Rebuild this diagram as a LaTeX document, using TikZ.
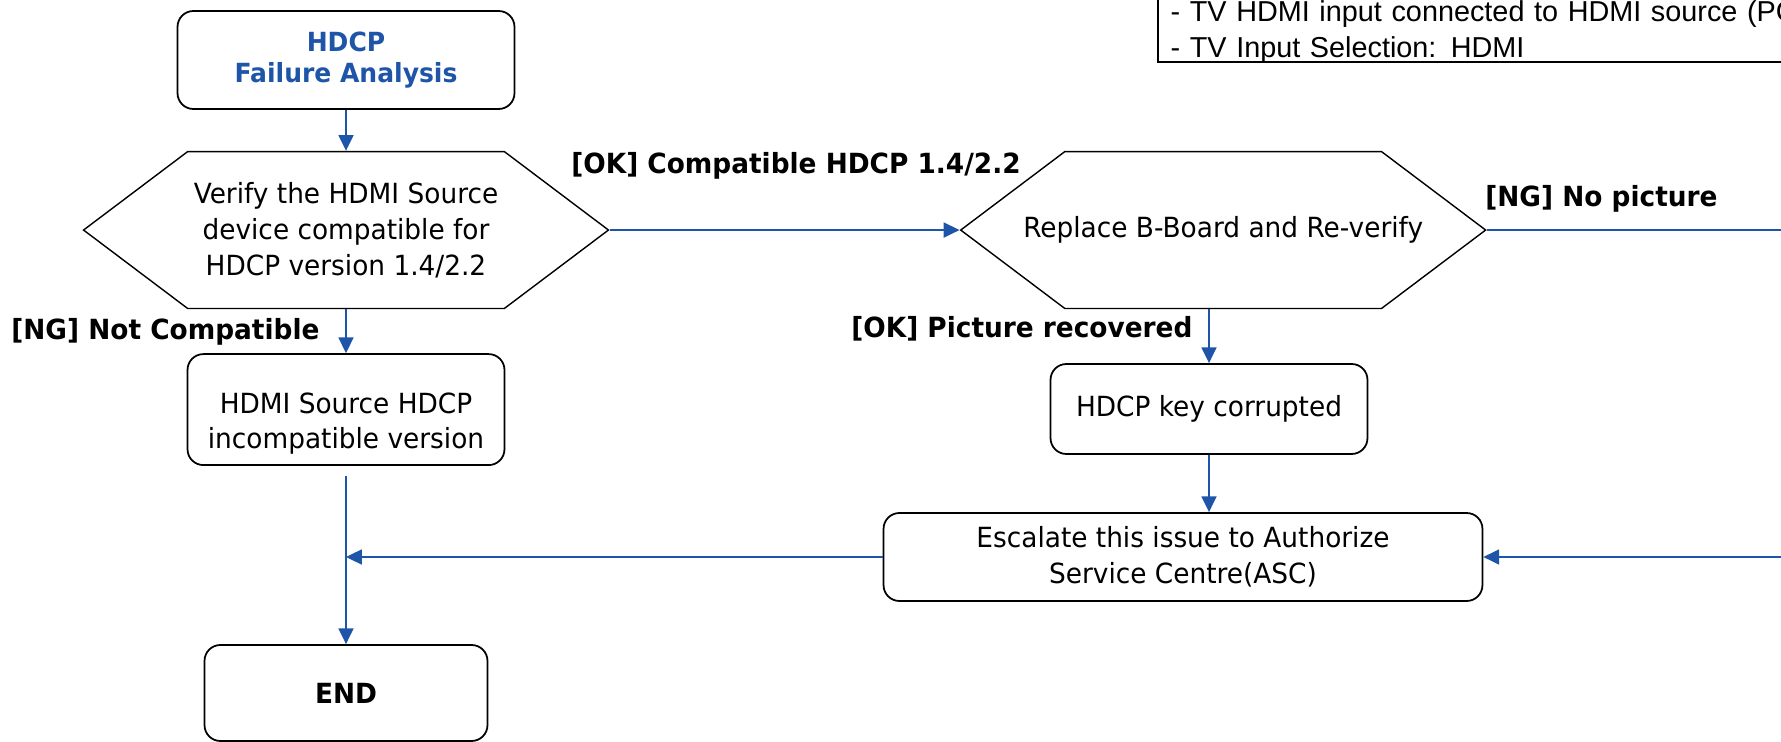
\documentclass[tikz,border=0pt]{standalone}
\usepackage{fontspec}
\setmainfont{DejaVu Sans}[FakeStretch=0.95]
\newfontfamily\notefont{Liberation Sans}
\usetikzlibrary{arrows.meta,positioning,shapes.symbols}
\definecolor{hdcpBlue}{HTML}{1F55A8}

\begin{document}
\begin{tikzpicture}[x=0.02cm,y=-0.02cm,
  font=\fontsize{15.8pt}{20.4pt}\selectfont,
  stepbox/.style={draw,line width=1pt,rounded corners=9pt,align=center,inner sep=2pt},
  check/.style={draw,line width=0.8pt,shape=signal,signal to=west and east,
                signal pointer angle=74,minimum width=10.5cm,minimum height=3.14cm,
                inner sep=0pt},
  tag/.style={font=\fontsize{15.8pt}{20.4pt}\selectfont\bfseries,inner sep=0pt,anchor=west},
  note/.style={anchor=south west,align=left,text width=14cm,
               font=\notefont\fontsize{16.4pt}{20.4pt}\selectfont,inner xsep=7pt,inner ysep=-1pt},
  flow/.style={draw=hdcpBlue,line width=1.1pt,-{Triangle[length=9pt,width=8.5pt]}}]
  \useasboundingbox (0,0) rectangle (1781,742);

  \node[note] (setup) at (1158,62) {%
    - TV HDMI input connected to HDMI source (PC)\\
    - TV Input Selection: HDMI};
  \draw[line width=1pt] (setup.south west) rectangle ([yshift=30pt]setup.north east);

  \node[stepbox,minimum width=6.74cm,minimum height=1.96cm,text=hdcpBlue,
        font=\fontsize{15pt}{18pt}\selectfont\bfseries] (start) at (346,60)
        {HDCP\\Failure Analysis};
  \node[check,below=0.82cm of start,
        label={[align=center]center:Verify the HDMI Source\\device compatible for\\HDCP version 1.4/2.2}]
        (verify) {};
  \node[check,right=7cm of verify,
        label={center:Replace B-Board and Re-verify}] (replace) {};
  \node[stepbox,minimum width=6.34cm,minimum height=2.22cm,below=0.88cm of verify,
        label={[align=center,yshift=-8pt]center:HDMI Source HDCP\\incompatible version}]
        (incompat) {};
  \node[stepbox,minimum width=6.34cm,minimum height=1.8cm] (key) at (1209,409)
        {HDCP key corrupted};
  \node[stepbox,minimum width=11.98cm,minimum height=1.76cm] (escalate) at (1183,557)
        {Escalate this issue to Authorize\\Service Centre(ASC)};
  \node[stepbox,minimum width=5.66cm,minimum height=1.92cm,
        font=\fontsize{15.8pt}{20.4pt}\selectfont\bfseries] (finish) at (346,693) {END};

  % labels on the branches
  \node[tag] (okcompat) at (571,166) {[OK] Compatible HDCP 1.4/2.2};
  \node[tag] (ngpic) at (1485,199) {[NG] No picture};
  \node[tag] (ngcompat) at (11,332) {[NG] Not Compatible};
  \node[tag] (okpic) at (851,329) {[OK] Picture recovered};

  \coordinate (join) at (346,476);
  \coordinate (backR) at (1800,557);

  \draw[flow] (start) -- (verify);
  \draw[flow] (verify.east) -- (replace.west);
  \draw[flow,-] (replace.east) -- (replace.east -| backR);
  \draw[flow] (backR) -- (escalate.east);
  \draw[flow] (verify) -- (incompat);
  \draw[flow] (replace.south -| key) -- (key);
  \draw[flow] (key) -- (key |- escalate.north);
  \draw[flow] (join) -- (finish);
  \draw[flow] (escalate.west) -- (escalate.west -| join);
\end{tikzpicture}
\end{document}
